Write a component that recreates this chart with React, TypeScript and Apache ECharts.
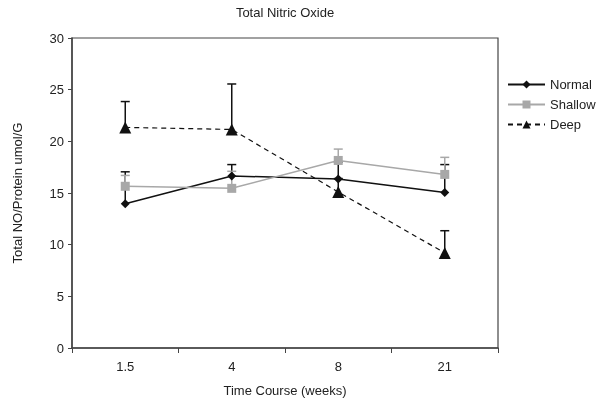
import React, { useEffect, useRef } from "react";
import * as echarts from "echarts";

const categories = ["1.5", "4", "8", "21"];
const normal = [13.95, 16.65, 16.35, 15.05];
const normalErr = [3.1, 1.1, 1.65, 2.7];
const shallow = [15.65, 15.45, 18.15, 16.8];
const shallowErr = [1.05, 1.65, 1.1, 1.65];
const deep = [21.35, 21.15, 15.1, 9.2];
const deepErr = [2.5, 4.4, 1.3, 2.15];

const FONT = "'Liberation Sans', Arial, sans-serif";
const TXT = "#222";

function errSeries(vals: number[], errs: number[], color: string, width: number) {
  return {
    type: "custom",
    z: 1,
    silent: true,
    data: vals.map((v, i) => [i, v, errs[i]]),
    encode: { x: 0, y: 1 },
    renderItem: (params: any, api: any) => {
      const i = api.value(0);
      const v = api.value(1);
      const e = api.value(2);
      const p0 = api.coord([i, v]);
      const p1 = api.coord([i, v + e]);
      const style = { stroke: color, lineWidth: width };
      return {
        type: "group",
        children: [
          { type: "line", shape: { x1: p0[0], y1: p0[1], x2: p1[0], y2: p1[1] }, style },
          { type: "line", shape: { x1: p1[0] - 4.5, y1: p1[1], x2: p1[0] + 4.5, y2: p1[1] }, style },
        ],
      };
    },
  };
}

export default function App() {
  const ref = useRef<HTMLDivElement>(null);
  useEffect(() => {
    const chart = echarts.init(ref.current!, null, { renderer: "svg" });
    chart.setOption({
      animation: false,
      textStyle: { fontFamily: FONT },
      graphic: [
        {
          type: "text",
          x: 285,
          y: 6,
          style: { text: "Total Nitric Oxide", font: `13px ${FONT}`, fill: TXT, textAlign: "center" },
        },
      ],
      legend: {
        orient: "vertical",
        left: 502,
        top: 73,
        itemWidth: 37,
        itemHeight: 10,
        itemGap: 7,
        textStyle: { fontFamily: FONT, fontSize: 13, color: TXT },
        data: ["Normal", "Shallow", "Deep"],
      },
      grid: {
        left: 72,
        right: 104,
        top: 38,
        bottom: 51,
        show: true,
        borderColor: "#444",
        borderWidth: 1.2,
      },
      xAxis: {
        type: "category",
        data: categories,
        boundaryGap: true,
        name: "Time Course (weeks)",
        nameLocation: "middle",
        nameGap: 36,
        nameTextStyle: { fontFamily: FONT, fontSize: 13, color: TXT },
        axisLine: { lineStyle: { color: "#444", width: 1.5 } },
        axisTick: { show: true, interval: 0, length: 5, lineStyle: { color: "#444" } },
        axisLabel: { fontFamily: FONT, fontSize: 13, color: TXT, margin: 12 },
        splitLine: { show: false },
      },
      yAxis: {
        type: "value",
        min: 0,
        max: 30,
        interval: 5,
        name: "Total NO/Protein umol/G",
        nameLocation: "middle",
        nameGap: 48,
        nameTextStyle: { fontFamily: FONT, fontSize: 13, color: TXT },
        axisLine: { show: true, lineStyle: { color: "#444", width: 1.5 } },
        axisTick: { show: true, length: 4, lineStyle: { color: "#444" } },
        axisLabel: { fontFamily: FONT, fontSize: 13, color: TXT, margin: 8 },
        splitLine: { show: false },
      },
      series: [
        errSeries(normal, normalErr, "#111", 1.5),
        errSeries(shallow, shallowErr, "#a8a8a8", 1.5),
        errSeries(deep, deepErr, "#111", 1.5),
        {
          name: "Normal",
          type: "line",
          z: 3,
          data: normal,
          symbol: "diamond",
          symbolSize: 9,
          itemStyle: { color: "#111" },
          lineStyle: { color: "#111", width: 1.5 },
        },
        {
          name: "Shallow",
          type: "line",
          z: 3,
          data: shallow,
          symbol: "rect",
          symbolSize: 9,
          itemStyle: { color: "#a8a8a8" },
          lineStyle: { color: "#a8a8a8", width: 1.5 },
        },
        {
          name: "Deep",
          type: "line",
          z: 3,
          data: deep,
          symbol: "triangle",
          symbolSize: 12,
          itemStyle: { color: "#111" },
          lineStyle: { color: "#111", width: 1.2, type: [5, 4] },
        },
      ],
    });
    return () => chart.dispose();
  }, []);
  return <div ref={ref} style={{ position: "fixed", left: 0, top: 0, width: 602, height: 402 }} />;
}
